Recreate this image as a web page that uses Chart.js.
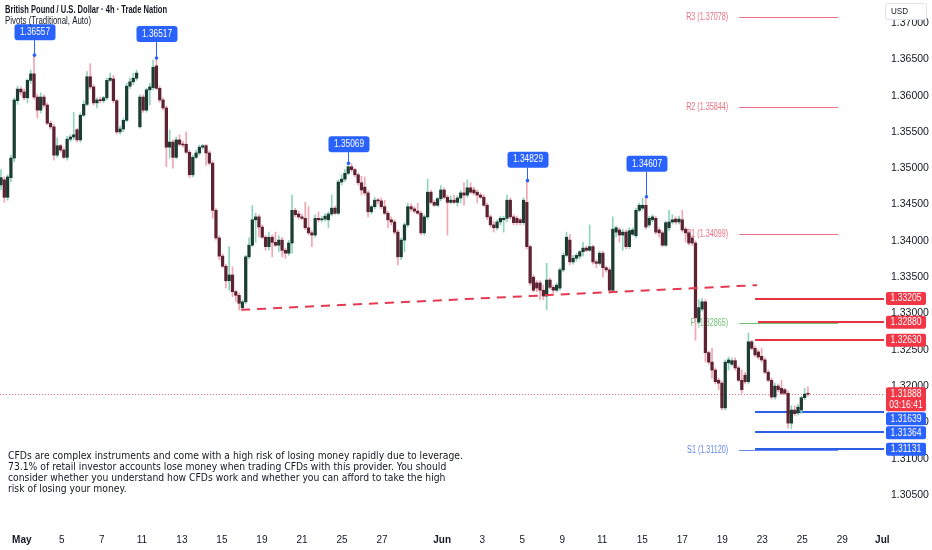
<!DOCTYPE html>
<html>
<head>
<meta charset="utf-8">
<title>GBPUSD 4h</title>
<script src="https://cdn.jsdelivr.net/npm/chart.js@4.4.1/dist/chart.umd.min.js"></script>
<style>
  html, body { margin: 0; padding: 0; background: #fff; }
  #wrap { width: 932px; height: 550px; position: relative; }
</style>
</head>
<body>
<div id="wrap"><canvas id="myChart"></canvas></div>
<script>
// 4h candles (one entry per candle)
const opens = [
  1.3477, 1.3484, 1.3460, 1.3487, 1.3514, 1.3593, 1.3609, 1.3605, 1.3597, 1.3621,
  1.3630, 1.3598, 1.3580, 1.3598, 1.3587, 1.3562, 1.3557, 1.3518, 1.3531, 1.3525,
  1.3515, 1.3540, 1.3543, 1.3553, 1.3539, 1.3573, 1.3588, 1.3626, 1.3612, 1.3590,
  1.3594, 1.3593, 1.3597, 1.3621, 1.3623, 1.3593, 1.3550, 1.3554, 1.3566, 1.3613,
  1.3619, 1.3624, 1.3557, 1.3598, 1.3580, 1.3608, 1.3611, 1.3641, 1.3610, 1.3594,
  1.3583, 1.3529, 1.3536, 1.3515, 1.3539, 1.3533, 1.3533, 1.3522, 1.3491, 1.3515,
  1.3521, 1.3529, 1.3531, 1.3521, 1.3507, 1.3442, 1.3404, 1.3379, 1.3365, 1.3345,
  1.3353, 1.3330, 1.3325, 1.3308, 1.3316, 1.3378, 1.3394, 1.3429, 1.3433, 1.3419,
  1.3405, 1.3392, 1.3405, 1.3398, 1.3394, 1.3401, 1.3387, 1.3383, 1.3397, 1.3442,
  1.3437, 1.3433, 1.3431, 1.3418, 1.3411, 1.3408, 1.3431, 1.3429, 1.3430, 1.3429,
  1.3437, 1.3445, 1.3438, 1.3481, 1.3485, 1.3493, 1.3502, 1.3498, 1.3491, 1.3480,
  1.3474, 1.3466, 1.3440, 1.3447, 1.3456, 1.3455, 1.3447, 1.3438, 1.3429, 1.3426,
  1.3412, 1.3378, 1.3401, 1.3422, 1.3447, 1.3444, 1.3441, 1.3438, 1.3411, 1.3433,
  1.3467, 1.3453, 1.3449, 1.3458, 1.3470, 1.3460, 1.3453, 1.3456, 1.3453, 1.3459,
  1.3466, 1.3463, 1.3473, 1.3470, 1.3467, 1.3463, 1.3460, 1.3449, 1.3433, 1.3422,
  1.3418, 1.3426, 1.3429, 1.3431, 1.3456, 1.3433, 1.3431, 1.3429, 1.3425, 1.3453,
  1.3392, 1.3350, 1.3342, 1.3342, 1.3332, 1.3324, 1.3346, 1.3336, 1.3332, 1.3335,
  1.3360, 1.3380, 1.3401, 1.3371, 1.3376, 1.3379, 1.3385, 1.3390, 1.3387, 1.3392,
  1.3371, 1.3369, 1.3383, 1.3363, 1.3360, 1.3332, 1.3412, 1.3415, 1.3408, 1.3412,
  1.3392, 1.3409, 1.3407, 1.3442, 1.3445, 1.3449, 1.3422, 1.3429, 1.3431, 1.3415,
  1.3411, 1.3394, 1.3418, 1.3426, 1.3430, 1.3426, 1.3429, 1.3416, 1.3411, 1.3404,
  1.3397, 1.3288, 1.3306, 1.3316, 1.3246, 1.3233, 1.3222, 1.3208, 1.3204, 1.3170,
  1.3232, 1.3230, 1.3235, 1.3225, 1.3208, 1.3215, 1.3206, 1.3261, 1.3252, 1.3247,
  1.3241, 1.3236, 1.3219, 1.3208, 1.3185, 1.3200, 1.3197, 1.3195, 1.3190, 1.3149,
  1.3167, 1.3163, 1.3167, 1.3184, 1.3189
];
const highs = [
  1.3498, 1.3488, 1.3491, 1.3518, 1.3597, 1.3613, 1.3612, 1.3609, 1.3623, 1.3635,
  1.36557, 1.3602, 1.3604, 1.3601, 1.3590, 1.3565, 1.3560, 1.3542, 1.3533, 1.3528,
  1.3544, 1.3546, 1.3577, 1.3555, 1.3576, 1.3593, 1.3633, 1.3644, 1.3615, 1.3597,
  1.3598, 1.3599, 1.3624, 1.3631, 1.3628, 1.3595, 1.3558, 1.3569, 1.3617, 1.3624,
  1.3631, 1.3635, 1.3601, 1.3601, 1.3610, 1.3617, 1.3649, 1.36517, 1.3613, 1.3597,
  1.3586, 1.3553, 1.3539, 1.3543, 1.3546, 1.3537, 1.3550, 1.3525, 1.3518, 1.3525,
  1.3532, 1.3533, 1.3533, 1.3524, 1.3510, 1.3445, 1.3407, 1.3382, 1.3368, 1.3392,
  1.3364, 1.3332, 1.3328, 1.3319, 1.3380, 1.3404, 1.3449, 1.3438, 1.3436, 1.3422,
  1.3408, 1.3412, 1.3408, 1.3412, 1.3407, 1.3405, 1.3390, 1.3401, 1.3463, 1.3445,
  1.3441, 1.3437, 1.3453, 1.3447, 1.3414, 1.3436, 1.3440, 1.3434, 1.3438, 1.3440,
  1.3463, 1.3448, 1.3484, 1.3491, 1.3498, 1.35069, 1.3506, 1.3500, 1.3493, 1.3489,
  1.3488, 1.3469, 1.3449, 1.3460, 1.3459, 1.3459, 1.3456, 1.3441, 1.3433, 1.3429,
  1.3415, 1.3404, 1.3425, 1.3452, 1.3451, 1.3447, 1.3452, 1.3441, 1.3436, 1.3485,
  1.3470, 1.3456, 1.3460, 1.3476, 1.3473, 1.3463, 1.3462, 1.3463, 1.3462, 1.3469,
  1.3480, 1.3484, 1.3480, 1.3474, 1.3470, 1.3466, 1.3463, 1.3452, 1.3436, 1.3427,
  1.3429, 1.3434, 1.3434, 1.3463, 1.3459, 1.3436, 1.3434, 1.3431, 1.3459, 1.34829,
  1.3394, 1.3353, 1.3345, 1.3345, 1.3339, 1.3369, 1.3349, 1.3339, 1.3342, 1.3363,
  1.3383, 1.3412, 1.3409, 1.3380, 1.3383, 1.3387, 1.3398, 1.3393, 1.3422, 1.3394,
  1.3374, 1.3386, 1.3386, 1.3365, 1.3363, 1.3433, 1.3420, 1.3418, 1.3416, 1.3415,
  1.3418, 1.3418, 1.3445, 1.3452, 1.3459, 1.34607, 1.3434, 1.3436, 1.3434, 1.3418,
  1.3414, 1.3427, 1.3442, 1.3436, 1.3433, 1.3434, 1.3442, 1.3419, 1.3414, 1.3407,
  1.3400, 1.3319, 1.3321, 1.3319, 1.3248, 1.3252, 1.3225, 1.3211, 1.3207, 1.3236,
  1.3240, 1.3239, 1.3239, 1.3228, 1.3222, 1.3219, 1.3273, 1.3263, 1.3255, 1.3250,
  1.3252, 1.3239, 1.3222, 1.3211, 1.3204, 1.3203, 1.3208, 1.3197, 1.3193, 1.3173,
  1.3173, 1.3175, 1.3186, 1.3197, 1.3199
];
const lows = [
  1.3470, 1.3453, 1.3456, 1.3481, 1.3509, 1.3588, 1.3601, 1.3594, 1.3590, 1.3617,
  1.3595, 1.3569, 1.3576, 1.3584, 1.3560, 1.3554, 1.3511, 1.3515, 1.3522, 1.3513,
  1.3511, 1.3537, 1.3539, 1.3536, 1.3536, 1.3571, 1.3586, 1.3609, 1.3587, 1.3583,
  1.3590, 1.3590, 1.3594, 1.3619, 1.3590, 1.3547, 1.3547, 1.3550, 1.3564, 1.3610,
  1.3615, 1.3621, 1.3555, 1.3577, 1.3577, 1.3587, 1.3608, 1.3608, 1.3591, 1.3580,
  1.3502, 1.3514, 1.3500, 1.3513, 1.3531, 1.3529, 1.3520, 1.3487, 1.3488, 1.3513,
  1.3518, 1.3526, 1.3504, 1.3504, 1.3431, 1.3401, 1.3374, 1.3363, 1.3335, 1.3332,
  1.3323, 1.3316, 1.3305, 1.3305, 1.3313, 1.3375, 1.3392, 1.3398, 1.3405, 1.3403,
  1.3387, 1.3387, 1.3378, 1.3392, 1.3385, 1.3378, 1.3376, 1.3380, 1.3383, 1.3433,
  1.3430, 1.3429, 1.3415, 1.3408, 1.3392, 1.3405, 1.3426, 1.3426, 1.3427, 1.3418,
  1.3434, 1.3436, 1.3436, 1.3477, 1.3482, 1.3491, 1.3495, 1.3488, 1.3477, 1.3463,
  1.3463, 1.3433, 1.3437, 1.3444, 1.3451, 1.3444, 1.3436, 1.3418, 1.3422, 1.3409,
  1.3367, 1.3374, 1.3385, 1.3419, 1.3441, 1.3438, 1.3436, 1.3408, 1.3408, 1.3430,
  1.3451, 1.3447, 1.3447, 1.3455, 1.3458, 1.3408, 1.3451, 1.3451, 1.3448, 1.3452,
  1.3449, 1.3460, 1.3465, 1.3463, 1.3452, 1.3458, 1.3447, 1.3429, 1.3419, 1.3412,
  1.3415, 1.3422, 1.3412, 1.3426, 1.3430, 1.3422, 1.3422, 1.3422, 1.3422, 1.3389,
  1.3339, 1.3330, 1.3330, 1.3319, 1.3319, 1.3305, 1.3334, 1.3328, 1.3330, 1.3332,
  1.3357, 1.3378, 1.3367, 1.3368, 1.3372, 1.3375, 1.3379, 1.3385, 1.3385, 1.3368,
  1.3363, 1.3367, 1.3350, 1.3357, 1.3328, 1.3330, 1.3405, 1.3398, 1.3387, 1.3389,
  1.3389, 1.3407, 1.3404, 1.3440, 1.3442, 1.3416, 1.3419, 1.3426, 1.3409, 1.3405,
  1.3392, 1.3392, 1.3414, 1.3423, 1.3423, 1.3423, 1.3412, 1.3398, 1.3394, 1.3394,
  1.3263, 1.3285, 1.3303, 1.3233, 1.3230, 1.3211, 1.3203, 1.3195, 1.3167, 1.3167,
  1.3222, 1.3228, 1.3222, 1.3206, 1.3190, 1.3203, 1.3203, 1.3250, 1.3240, 1.3237,
  1.3233, 1.3217, 1.3206, 1.3182, 1.3182, 1.3192, 1.3188, 1.3188, 1.3142, 1.3141,
  1.3159, 1.3160, 1.3162, 1.3181, 1.3186
];
const closes = [
  1.3487, 1.3460, 1.3488, 1.3514, 1.3594, 1.3609, 1.3605, 1.3597, 1.3621, 1.3630,
  1.3598, 1.3580, 1.3598, 1.3587, 1.3562, 1.3557, 1.3518, 1.3531, 1.3525, 1.3515,
  1.3540, 1.3543, 1.3546, 1.3539, 1.3573, 1.3588, 1.3626, 1.3612, 1.3590, 1.3594,
  1.3593, 1.3597, 1.3621, 1.3624, 1.3593, 1.3550, 1.3554, 1.3566, 1.3613, 1.3619,
  1.3624, 1.3631, 1.3598, 1.3580, 1.3608, 1.3612, 1.3639, 1.3610, 1.3594, 1.3583,
  1.3529, 1.3536, 1.3515, 1.3539, 1.3533, 1.3532, 1.3522, 1.3491, 1.3515, 1.3521,
  1.3529, 1.3531, 1.3521, 1.3507, 1.3442, 1.3404, 1.3379, 1.3365, 1.3345, 1.3353,
  1.3330, 1.3325, 1.3314, 1.3316, 1.3378, 1.3394, 1.3429, 1.3433, 1.3419, 1.3405,
  1.3392, 1.3405, 1.3398, 1.3394, 1.3401, 1.3387, 1.3383, 1.3397, 1.3442, 1.3436,
  1.3433, 1.3431, 1.3418, 1.3411, 1.3408, 1.3431, 1.3429, 1.3430, 1.3434, 1.3437,
  1.3445, 1.3438, 1.3481, 1.3485, 1.3493, 1.3502, 1.3498, 1.3491, 1.3480, 1.3470,
  1.3466, 1.3440, 1.3447, 1.3456, 1.3455, 1.3447, 1.3438, 1.3429, 1.3426, 1.3412,
  1.3378, 1.3401, 1.3422, 1.3447, 1.3444, 1.3441, 1.3438, 1.3411, 1.3433, 1.3467,
  1.3453, 1.3449, 1.3458, 1.3470, 1.3460, 1.3453, 1.3456, 1.3453, 1.3459, 1.3466,
  1.3463, 1.3473, 1.3467, 1.3466, 1.3463, 1.3460, 1.3449, 1.3433, 1.3422, 1.3418,
  1.3426, 1.3431, 1.3431, 1.3456, 1.3433, 1.3425, 1.3425, 1.3425, 1.3456, 1.3392,
  1.3342, 1.3332, 1.3335, 1.3332, 1.3324, 1.3346, 1.3336, 1.3332, 1.3339, 1.3360,
  1.3380, 1.3405, 1.3371, 1.3376, 1.3380, 1.3385, 1.3390, 1.3387, 1.3392, 1.3371,
  1.3369, 1.3383, 1.3363, 1.3360, 1.3332, 1.3416, 1.3418, 1.3408, 1.3412, 1.3392,
  1.3414, 1.3415, 1.3442, 1.3449, 1.3449, 1.3419, 1.3431, 1.3433, 1.3412, 1.3411,
  1.3394, 1.3425, 1.3426, 1.3429, 1.3426, 1.3430, 1.3415, 1.3411, 1.3397, 1.3397,
  1.3294, 1.3308, 1.3316, 1.3246, 1.3233, 1.3222, 1.3206, 1.3204, 1.3170, 1.3233,
  1.3236, 1.3235, 1.3225, 1.3208, 1.3195, 1.3206, 1.3261, 1.3252, 1.3243, 1.3240,
  1.3236, 1.3219, 1.3208, 1.3185, 1.3200, 1.3195, 1.3190, 1.3190, 1.3149, 1.3167,
  1.3162, 1.3171, 1.3184, 1.3189, 1.31888
];

// time axis: tick positions in candle units and their labels
const dayTicks = [6.3, 18.4, 30.5, 42.6, 54.7, 66.8, 78.9, 91, 103.1, 115.2,
  133.4, 145.5, 157.6, 169.7, 181.8, 193.9, 206, 218.1, 230.2, 242.3, 254.4, 266.5];
const dayLabels = ['May', '5', '7', '11', '13', '15', '19', '21', '25', '27',
  'Jun', '3', '5', '9', '11', '15', '17', '19', '23', '25', '29', 'Jul'];
const priceTicks = [1.305, 1.31, 1.315, 1.32, 1.325, 1.33, 1.335, 1.34, 1.345,
  1.35, 1.355, 1.36, 1.365, 1.37];

// pivots (Traditional, Auto)
const pivotNames = ['R3', 'R2', 'R1', 'P', 'S1'];
const pivotValues = [1.37078, 1.35844, 1.34099, 1.32865, 1.31120];
const pivotSpan = [223.2, 253.1];

// drawn horizontal levels
const levelValues = [1.33205, 1.32880, 1.32630, 1.31639, 1.31364, 1.31131];
const levelStart = [228, 228.9, 228, 228, 228, 228];
const levelSide = ['res', 'res', 'res', 'sup', 'sup', 'sup'];

// swing-high callouts
const swingIdx = [10, 47, 105, 159, 195];
const swingHigh = [1.36557, 1.36517, 1.35069, 1.34829, 1.34607];

// dashed trend line
const trendIdx = [72.6, 228.6];
const trendVals = [1.3305, 1.3339];

const lastPrice = 1.31888;
const countdown = '03:16:41';

const disclaimer = [
  'CFDs are complex instruments and come with a high risk of losing money rapidly due to leverage.',
  '73.1% of retail investor accounts lose money when trading CFDs with this provider. You should',
  'consider whether you understand how CFDs work and whether you can afford to take the high',
  'risk of losing your money.'
];

const UP_BODY = '#1c3d31', DOWN_BODY = '#5e2333';
const UP_WICK = '#8fd4c0', DOWN_WICK = '#f3a5b4';
const RED = '#f23645', BLUE = '#2962ff';
const FONT = "'Liberation Sans', Arial, sans-serif";

const isUp = i => closes[i] >= opens[i];

function squeeze(ctx, text, x, y, sx) {
  ctx.save();
  ctx.translate(x, y);
  ctx.scale(sx, 1);
  ctx.fillText(text, 0, 0);
  ctx.restore();
}

const overlay = {
  id: 'overlay',
  beforeDatasetsDraw(chart) {
    const { ctx, chartArea: a, scales: { x, y } } = chart;
    ctx.save();

    // last price dotted line
    const lp = Math.round(y.getPixelForValue(lastPrice)) + 0.5;
    ctx.strokeStyle = 'rgba(242,54,69,0.75)';
    ctx.lineWidth = 1;
    ctx.setLineDash([1, 2]);
    ctx.beginPath(); ctx.moveTo(a.left, lp); ctx.lineTo(a.right, lp); ctx.stroke();
    ctx.setLineDash([]);

    // pivot lines and labels
    const px0 = x.getPixelForValue(pivotSpan[0]);
    const px1 = x.getPixelForValue(pivotSpan[1]);
    ctx.font = '10px ' + FONT;
    const psx = 42 / ctx.measureText('R3 (1.37078)').width;
    ctx.textAlign = 'right';
    ctx.textBaseline = 'middle';
    pivotNames.forEach((n, k) => {
      const py = Math.round(y.getPixelForValue(pivotValues[k])) + 0.5;
      const col = n[0] === 'R' ? '#ec7083' : n === 'P' ? '#72c274' : '#6688f3';
      ctx.strokeStyle = col;
      ctx.beginPath(); ctx.moveTo(px0, py); ctx.lineTo(px1, py); ctx.stroke();
      ctx.fillStyle = col;
      squeeze(ctx, n + ' (' + pivotValues[k].toFixed(5) + ')', px0 - 11, py, psx);
    });

    // horizontal levels
    ctx.lineWidth = 2;
    levelValues.forEach((v, k) => {
      const py = Math.round(y.getPixelForValue(v));
      ctx.strokeStyle = levelSide[k] === 'res' ? '#e8323f' : '#2a5fe6';
      ctx.beginPath();
      ctx.moveTo(x.getPixelForValue(levelStart[k]), py);
      ctx.lineTo(a.right, py);
      ctx.stroke();
    });
    ctx.restore();
  },
  afterDatasetsDraw(chart) {
    const { ctx, scales: { x, y } } = chart;
    const gaps = [15, 16, 11, 13, 25];
    ctx.save();
    ctx.font = '10px ' + FONT;
    const tsx = 30 / ctx.measureText('1.36557').width;
    ctx.textAlign = 'center';
    ctx.textBaseline = 'middle';
    swingIdx.forEach((xi, k) => {
      const px = Math.round(x.getPixelForValue(xi)) + 0.5;
      const py = y.getPixelForValue(swingHigh[k]);
      const bottom = py - gaps[k];
      ctx.strokeStyle = BLUE; ctx.fillStyle = BLUE; ctx.lineWidth = 1;
      ctx.beginPath(); ctx.moveTo(px, bottom); ctx.lineTo(px, py); ctx.stroke();
      ctx.beginPath(); ctx.arc(px, py, 1.8, 0, Math.PI * 2); ctx.fill();
      ctx.beginPath(); ctx.roundRect(px - 20, bottom - 16, 41, 16, 3); ctx.fill();
      ctx.fillStyle = '#fff';
      squeeze(ctx, swingHigh[k].toFixed(5), px + 0.5, bottom - 8, tsx);
    });
    ctx.restore();
  },
  afterDraw(chart) {
    const { ctx, chartArea: a, scales: { y } } = chart;
    ctx.save();

    // price-scale labels, pushed down when they overlap
    const boxes = levelValues.map((v, k) => ({
      c: y.getPixelForValue(v), up: 6.5, h: 13,
      color: levelSide[k] === 'res' ? RED : BLUE, lines: [v.toFixed(5)]
    }));
    boxes.push({ c: y.getPixelForValue(lastPrice), up: 7, h: 24, color: RED,
      lines: [lastPrice.toFixed(5), countdown] });
    boxes.sort((p, q) => p.c - q.c);
    ctx.font = '10.5px ' + FONT;
    const bsx = 31 / ctx.measureText('1.33205').width;
    ctx.textAlign = 'center';
    ctx.textBaseline = 'middle';
    let prevBottom = -99;
    boxes.forEach(b => {
      let top = b.c - b.up;
      if (top < prevBottom + 1) top = prevBottom + 1;
      ctx.fillStyle = b.color;
      ctx.beginPath(); ctx.roundRect(a.right + 2, top, 40, b.h, 2); ctx.fill();
      ctx.fillStyle = '#fff';
      b.lines.forEach((t, j) => squeeze(ctx, t, a.right + 22, top + 6.5 + j * 11, bsx));
      prevBottom = top + b.h;
    });

    // currency box
    ctx.fillStyle = '#fff';
    ctx.strokeStyle = '#e0e3eb';
    ctx.lineWidth = 1;
    ctx.beginPath(); ctx.roundRect(a.right + 1.5, 3.5, 41, 16, 2); ctx.fill(); ctx.stroke();
    ctx.fillStyle = '#131722';
    ctx.textAlign = 'left';
    ctx.font = '9.5px ' + FONT;
    squeeze(ctx, 'USD', a.right + 7, 11.5, 0.85);

    // header
    ctx.fillStyle = '#131722';
    ctx.font = '600 10px ' + FONT;
    const title = 'British Pound / U.S. Dollar \u00b7 4h \u00b7 Trade Nation';
    squeeze(ctx, title, 5, 10, 162 / ctx.measureText(title).width);
    ctx.font = '10px ' + FONT;
    const sub = 'Pivots (Traditional, Auto)';
    squeeze(ctx, sub, 5, 21.5, 86 / ctx.measureText(sub).width);

    // disclaimer
    ctx.font = '10.5px "DejaVu Sans", sans-serif';
    const dsx = 455 / ctx.measureText(disclaimer[0]).width;
    disclaimer.forEach((t, j) => squeeze(ctx, t, 8, 456 + j * 11, dsx));
    ctx.restore();
  }
};

const data = {
  datasets: [
    {
      type: 'bar',
      label: 'Body',
      data: opens.map((o, i) => ({ x: i, y: [o, closes[i]] })),
      backgroundColor: c => isUp(c.dataIndex) ? UP_BODY : DOWN_BODY,
      barThickness: 2.6,
      minBarLength: 1,
      grouped: false,
      order: 2
    },
    {
      type: 'bar',
      label: 'Wick',
      data: lows.map((l, i) => ({ x: i, y: [l, highs[i]] })),
      backgroundColor: c => isUp(c.dataIndex) ? UP_WICK : DOWN_WICK,
      barThickness: 1,
      grouped: false,
      order: 3
    },
    {
      type: 'line',
      label: 'Trend',
      data: trendIdx.map((t, i) => ({ x: t, y: trendVals[i] })),
      borderColor: '#e63a50',
      borderWidth: 2,
      borderDash: [9, 7],
      pointRadius: 0,
      order: 1
    }
  ]
};

const config = {
  type: 'bar',
  data: data,
  options: {
    responsive: true,
    maintainAspectRatio: false,
    animation: false,
    events: [],
    layout: { padding: 0 },
    plugins: { legend: { display: false }, tooltip: { enabled: false } },
    scales: {
      x: {
        type: 'linear',
        min: -0.3,
        max: 267,
        offset: false,
        grid: { display: false, drawTicks: false },
        border: { display: false },
        afterBuildTicks: s => { s.ticks = dayTicks.map(v => ({ value: v })); },
        afterFit: s => { s.height = 22; s.paddingLeft = 0; s.paddingRight = 0; },
        ticks: {
          autoSkip: false,
          maxRotation: 0,
          padding: 6,
          color: '#131722',
          font: c => ({ family: FONT, size: 10,
            weight: /^[A-Z]/.test(dayLabels[c.index] || '') ? 'bold' : 'normal' }),
          callback: (v, i) => dayLabels[i]
        }
      },
      y: {
        type: 'linear',
        position: 'right',
        min: 1.300455,
        max: 1.373167,
        grid: { display: false, drawTicks: false },
        border: { display: false },
        afterBuildTicks: s => { s.ticks = priceTicks.map(v => ({ value: v })); },
        afterFit: s => { s.width = 48; s.paddingTop = 0; s.paddingBottom = 0; },
        ticks: {
          padding: 7,
          color: '#131722',
          font: { family: FONT, size: 10.5 },
          callback: v => v.toFixed(5)
        }
      }
    }
  },
  plugins: [overlay]
};

const myChart = new Chart(document.getElementById('myChart'), config);
</script>
</body>
</html>
